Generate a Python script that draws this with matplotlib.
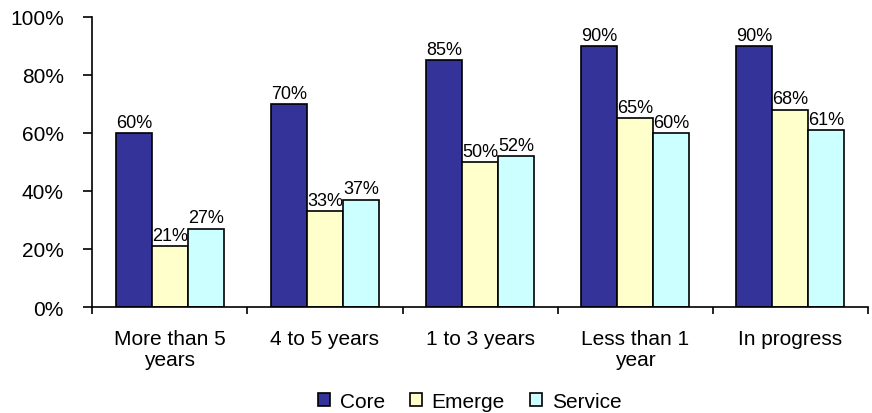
import numpy as np
import matplotlib.pyplot as plt
from matplotlib.ticker import FuncFormatter

plt.rcParams['font.family'] = ['Liberation Sans', 'DejaVu Sans']

categories = ["More than 5\nyears", "4 to 5 years", "1 to 3 years",
              "Less than 1\nyear", "In progress"]
core = [60, 70, 85, 90, 90]
emerge = [21, 33, 50, 65, 68]
service = [27, 37, 52, 60, 61]

series = [("Core", core, "#333399"),
          ("Emerge", emerge, "#FFFFCC"),
          ("Service", service, "#CCFFFF")]

fig = plt.figure(figsize=(8.72, 4.14), dpi=100)
ax = fig.add_axes([0.106, 0.256, 0.889, 0.701])

x = np.arange(len(categories))
width = 0.233
for i, (name, vals, color) in enumerate(series):
    pos = x + (i - 1) * width
    bars = ax.bar(pos, vals, width, color=color, edgecolor="black",
                  linewidth=1.2, label=name)
    for b, v in zip(bars, vals):
        ax.text(b.get_x() + b.get_width() / 2, v + 0.8, f"{v}%",
                ha="center", va="bottom", fontsize=13)

ax.set_ylim(0, 100)
ax.set_xlim(-0.5, len(categories) - 0.5)
ax.set_yticks(range(0, 101, 20))
ax.yaxis.set_major_formatter(FuncFormatter(lambda v, _: f"{int(v)}%"))
ax.tick_params(axis="y", labelsize=15, length=6.5, width=1.2, direction="out", pad=14)

# category labels centred, tick marks on the group boundaries
ax.set_xticks(x)
ax.set_xticklabels(categories, fontsize=15, linespacing=1.1)
ax.tick_params(axis="x", which="major", length=0, pad=16)
ax.set_xticks(np.arange(-0.5, len(categories), 1), minor=True)
ax.tick_params(axis="x", which="minor", length=5, width=1.2, direction="out")

for side in ("top", "right"):
    ax.spines[side].set_visible(False)
for side in ("left", "bottom"):
    ax.spines[side].set_linewidth(1.2)

fig.legend(loc="lower center", bbox_to_anchor=(0.5385, -0.04), ncol=3,
           frameon=False, fontsize=15, handlelength=0.6, handleheight=0.6,
           columnspacing=1.2, handletextpad=0.45)

fig.savefig("out.png", dpi=100)
